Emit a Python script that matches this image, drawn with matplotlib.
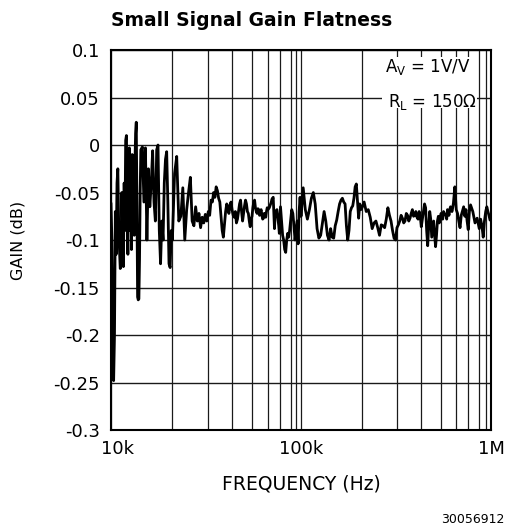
import numpy as np
import matplotlib
matplotlib.use('Agg')
import matplotlib.pyplot as plt
from matplotlib.patches import Rectangle
from matplotlib.ticker import FixedLocator, FixedFormatter, NullFormatter
from matplotlib.transforms import ScaledTranslation

plt.rcParams['font.family'] = ['DejaVu Sans']

freq_khz = [
    10.0, 10.1, 10.2, 10.3, 10.4, 10.5, 10.6, 10.7, 10.8, 10.9,
    11.0, 11.1, 11.2, 11.3, 11.4, 11.5, 11.6, 11.7, 11.8, 11.9,
    12.0, 12.1, 12.2, 12.3, 12.4, 12.5, 12.6, 12.7, 12.8, 12.9,
    13.0, 13.1, 13.2, 13.3, 13.4, 13.5, 13.6, 13.7, 13.8, 13.9,
    14.0, 14.25, 14.5, 14.75, 15.0, 15.25, 15.5, 15.75, 16.0, 16.25,
    16.5, 16.75, 17.0, 17.25, 17.5, 17.75, 18.0, 18.25, 18.5, 18.75,
    19.0, 19.25, 19.5, 19.75, 20.0, 20.5, 21.0, 21.5, 22.0, 22.5,
    23.0, 23.5, 24.0, 24.5, 25.0, 25.5, 26.0, 26.5, 27.0, 27.5,
    28.0, 28.5, 29.0, 29.5,
    30.0, 30.5, 31, 31.5, 32, 32.5, 33, 33.5, 34, 34.5,
    35, 35.5, 36, 36.5, 37, 37.5, 38, 38.5, 39, 39.5,
    40, 40.5, 41, 41.5, 42, 42.5, 43, 43.5, 44, 44.5,
    45, 45.5, 46, 46.5, 47, 47.5, 48, 48.5, 49, 49.5,
    50, 50.5, 51, 51.5, 52, 52.5, 53, 53.5, 54, 54.5,
    55, 55.5, 56, 56.5, 57, 57.5, 58, 58.5, 59, 59.5,
    60, 61, 62, 62.5, 63, 64, 65, 65.5, 66, 67,
    68, 68.5, 69, 70, 71, 72, 73, 74, 75,
    76, 77, 78, 79, 80, 82, 84, 86, 88, 90,
    92, 94, 96, 98, 100, 102.5, 105, 107.5, 110, 112.5,
    115, 117.5, 120, 122.5, 125, 127.5, 130, 132.5, 135, 137.5,
    140, 142.5, 145, 147.5,
    150, 152.5, 155, 157.5, 160, 162.5, 165, 167.5, 170, 172.5,
    175, 177.5, 180, 182.5, 185, 187.5, 190, 192.5, 195, 197.5,
    200, 205, 210, 215, 220, 225, 230, 235, 240, 245,
    250, 255, 260, 265, 270, 275, 280, 285, 290, 295,
    300, 305, 310, 315, 320, 325, 330, 335, 340, 345,
    350, 355, 360, 365, 370, 375, 380, 385, 390, 395,
    400, 405, 410, 415, 420, 425, 430, 435, 440, 445,
    450, 455, 460, 465, 470, 475, 480, 485, 490, 495,
    500, 510, 515, 520, 530, 535, 540, 550, 555, 560,
    570, 575, 580, 590, 595, 600, 610, 620, 630,
    640, 660, 670, 680, 690, 700, 710, 720, 740, 760,
    780, 800, 820, 840, 860, 880, 900, 920, 940, 960,
    980, 1000,
]
gain_db = [
    -0.062, -0.10, -0.20, -0.248, -0.20, -0.07, -0.115, -0.04, -0.025, -0.08,
    -0.11, -0.13, -0.125, -0.05, -0.10, -0.128, -0.04, -0.09, 0.005, 0.01,
    -0.06, -0.115, -0.02, -0.003, -0.09, -0.03, -0.11, -0.01, -0.07, -0.035,
    -0.095, -0.02, 0.012, 0.024, -0.06, -0.16, -0.163, -0.162, -0.12, -0.05,
    -0.005, -0.002, -0.06, -0.003, -0.10, -0.025, -0.065, -0.04, -0.006, -0.06,
    -0.08, -0.005, 0.0, -0.09, -0.125, -0.08, -0.10, -0.04, -0.015, -0.007,
    -0.06, -0.125, -0.129, -0.09, -0.10, -0.03, -0.012, -0.08, -0.075, -0.045,
    -0.10, -0.068, -0.05, -0.034, -0.08, -0.085, -0.065, -0.08, -0.072, -0.087,
    -0.076, -0.082, -0.073, -0.08,
    -0.07, -0.074, -0.058, -0.06, -0.05, -0.055, -0.044, -0.048, -0.056, -0.06,
    -0.075, -0.09, -0.097, -0.083, -0.07, -0.062, -0.066, -0.072, -0.063, -0.06,
    -0.068, -0.074, -0.076, -0.07, -0.082, -0.078, -0.07, -0.062, -0.058, -0.07,
    -0.08, -0.072, -0.064, -0.058, -0.062, -0.07, -0.072, -0.08, -0.086, -0.078,
    -0.075, -0.066, -0.06, -0.058, -0.066, -0.07, -0.072, -0.067, -0.068, -0.074,
    -0.07, -0.068, -0.074, -0.078, -0.077, -0.072, -0.072, -0.076, -0.07, -0.066,
    -0.068, -0.066, -0.062, -0.06, -0.057, -0.055, -0.088, -0.075, -0.07, -0.068,
    -0.08, -0.085, -0.093, -0.065, -0.08, -0.095, -0.10, -0.11, -0.113,
    -0.10, -0.093, -0.097, -0.09, -0.08, -0.068, -0.072, -0.085, -0.10, -0.09,
    -0.08, -0.104, -0.07, -0.055, -0.075, -0.045, -0.068, -0.078, -0.068, -0.056,
    -0.05, -0.062, -0.088, -0.098, -0.095, -0.082, -0.07, -0.08, -0.095, -0.10,
    -0.088, -0.097, -0.098, -0.085,
    -0.079, -0.07, -0.062, -0.058, -0.056, -0.06, -0.062, -0.085, -0.10, -0.09,
    -0.07, -0.066, -0.064, -0.056, -0.044, -0.041, -0.06, -0.077, -0.062, -0.068,
    -0.066, -0.06, -0.07, -0.068, -0.076, -0.088, -0.082, -0.08, -0.087, -0.095,
    -0.084, -0.085, -0.087, -0.078, -0.066, -0.074, -0.08, -0.09, -0.098, -0.10,
    -0.087, -0.084, -0.08, -0.074, -0.077, -0.082, -0.08, -0.072, -0.074, -0.08,
    -0.077, -0.072, -0.068, -0.075, -0.074, -0.07, -0.076, -0.078, -0.07, -0.075,
    -0.086, -0.078, -0.07, -0.062, -0.066, -0.09, -0.106, -0.085, -0.07, -0.078,
    -0.097, -0.088, -0.08, -0.095, -0.107, -0.095, -0.08, -0.075, -0.082, -0.078,
    -0.072, -0.078, -0.07, -0.072, -0.074, -0.078, -0.068, -0.074, -0.068, -0.065,
    -0.07, -0.066, -0.061, -0.044, -0.056, -0.068, -0.072, -0.08, -0.087,
    -0.074, -0.065, -0.075, -0.068, -0.08, -0.089, -0.07, -0.063, -0.07, -0.082,
    -0.077, -0.088, -0.078, -0.085, -0.097, -0.08, -0.07, -0.065, -0.07, -0.074,
    -0.079, -0.078,
]

y_ticks = [0.1, 0.05, 0, -0.05, -0.1, -0.15, -0.2, -0.25, -0.3]
y_labels = ['0.1', '0.05', '0', '-0.05', '-0.1', '-0.15', '-0.2', '-0.25', '-0.3']
x_major = [1e4, 1e5, 1e6]
x_labels = ['10k', '100k', '1M']
x_minor = [m * 10.0**e for e in (4, 5) for m in range(2, 10)]

# the printed grid is not a true log grid: map through where its lines sit (fraction of a decade)
grid_frac = {4: [0, .323, .512, .637, .742, .826, .892, .945, .974],
             5: [0, .321, .505, .633, .737, .817, .880, .938, .972]}
knot_log = [3.0]
knot_pos = [3.0]
for dec, fr in grid_frac.items():
    for m, p in zip(range(1, 10), fr):
        knot_log.append(dec + np.log10(m))
        knot_pos.append(dec + p)
knot_log += [6.0, 7.0]
knot_pos += [6.0, 7.0]


def forward(f):
    f = np.asarray(f, dtype=float)
    lf = np.log10(np.where(f > 0, f, 1e-300))
    return np.interp(lf, knot_log, knot_pos)


def inverse(p):
    return 10.0 ** np.interp(np.asarray(p, dtype=float), knot_pos, knot_log)


fig = plt.figure(figsize=(5.06, 5.29), dpi=100)
ax = fig.add_axes([0.2194, 0.1871, 0.751, 0.7183])

ax.set_xscale('function', functions=(forward, inverse))
ax.plot(np.array(freq_khz) * 1e3, gain_db, color='black', lw=2.0, zorder=3)

ax.set_xlim(1e4, 1e6)
ax.set_ylim(-0.3, 0.1)
ax.xaxis.set_major_locator(FixedLocator(x_major))
ax.xaxis.set_major_formatter(FixedFormatter(x_labels))
ax.xaxis.set_minor_locator(FixedLocator(x_minor))
ax.xaxis.set_minor_formatter(NullFormatter())
ax.yaxis.set_major_locator(FixedLocator(y_ticks))
ax.yaxis.set_major_formatter(FixedFormatter(y_labels))

ax.grid(True, which='both', axis='x', color='#1a1a1a', lw=0.9)
ax.grid(True, which='major', axis='y', color='#1a1a1a', lw=1.0)
ax.tick_params(which='both', length=0, labelsize=13, colors='black')
ax.tick_params(axis='x', pad=7)
ax.tick_params(axis='y', pad=8)
for s in ax.spines.values():
    s.set_linewidth(1.5)

# nudge "10k" right so it clears "-0.3"
lbl = ax.xaxis.get_major_ticks()[0].label1
lbl.set_transform(lbl.get_transform() + ScaledTranslation(6 / 100, 0, fig.dpi_scale_trans))

ax.set_title('Small Signal Gain Flatness', loc='left', fontsize=13.5, fontweight='bold', pad=17)
ax.set_xlabel('FREQUENCY (Hz)', fontsize=13.5, labelpad=12)
ax.set_ylabel('GAIN (dB)', fontsize=11.5, labelpad=20)

# white patch behind the condition text, hiding the grid there
ax.add_patch(Rectangle((0.713, 0.847), 0.25, 0.135, transform=ax.transAxes,
                       facecolor='white', edgecolor='none', zorder=2))
ax.text(0.945, 0.943, r'A$_\mathregular{V}$ = 1V/V', transform=ax.transAxes,
        ha='right', va='baseline', fontsize=12, zorder=4)
ax.text(0.962, 0.851, r'R$_\mathregular{L}$ = 150Ω', transform=ax.transAxes,
        ha='right', va='baseline', fontsize=12, zorder=4)

fig.text(0.996, 0.012, '30056912', ha='right', va='baseline', fontsize=9)

fig.savefig('out.png', dpi=100)
